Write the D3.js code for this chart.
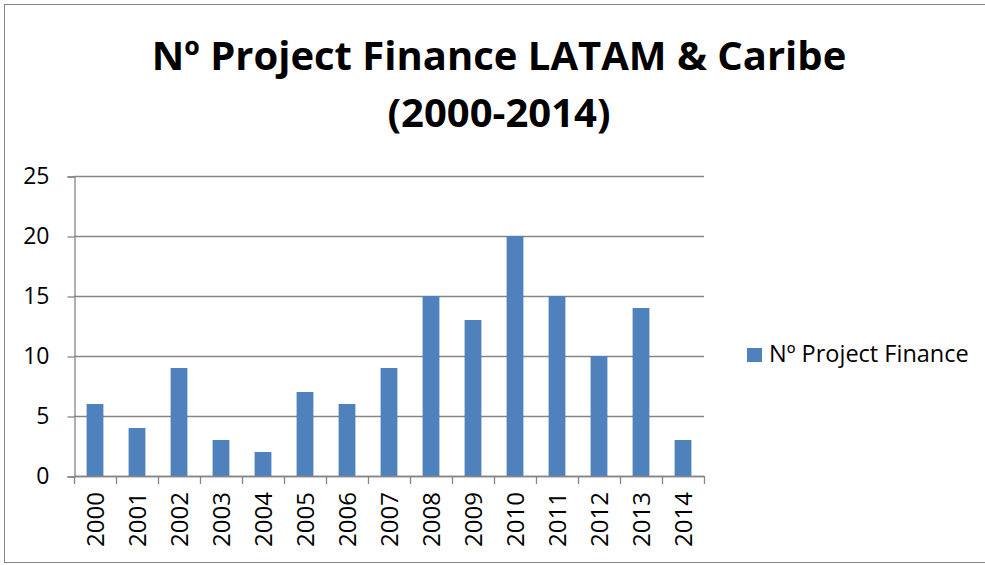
<!DOCTYPE html>
<html>
<head>
<meta charset="utf-8">
<script src="https://cdn.jsdelivr.net/npm/d3@7"></script>
<style>
  html, body { margin: 0; padding: 0; background: #ffffff; }
  svg { display: block; }
  text { font-family: "Open Sans", "Liberation Sans", sans-serif; fill: #000; }
</style>
</head>
<body>
<svg id="chart" width="985" height="565"></svg>
<script>
// Number of project finance deals per year
const years = ["2000","2001","2002","2003","2004","2005","2006","2007","2008","2009","2010","2011","2012","2013","2014"];
const projectCounts = [6, 4, 9, 3, 2, 7, 6, 9, 15, 13, 20, 15, 10, 14, 3];
const yTicks = [0, 5, 10, 15, 20, 25];
const seriesName = "Nº Project Finance";
const titleLines = ["Nº Project Finance LATAM & Caribe", "(2000-2014)"];

const svg = d3.select("#chart");
const plot = { left: 74, right: 704, top: 176, bottom: 476 };
const gridColor = "#868686";
const barColor = "#4f81bd";
const labelSize = 24;

// outer chart frame
svg.append("rect")
  .attr("x", 4.5).attr("y", 4.5)
  .attr("width", 990).attr("height", 558)
  .attr("fill", "none").attr("stroke", gridColor).attr("stroke-width", 1);

// title
svg.append("g").selectAll("text")
  .data(titleLines)
  .join("text")
  .attr("x", 499)
  .attr("y", (d, i) => 70 + i * 57)
  .attr("text-anchor", "middle")
  .attr("font-weight", "bold")
  .attr("font-size", 40)
  .text(d => d);

const x = d3.scaleBand()
  .domain(years)
  .range([plot.left, plot.right])
  .paddingInner(0.6)
  .paddingOuter(0.3);

const y = d3.scaleLinear()
  .domain([0, 25])
  .range([plot.bottom, plot.top]);

// horizontal gridlines
svg.append("g").selectAll("line")
  .data(yTicks)
  .join("line")
  .attr("x1", plot.left).attr("x2", plot.right)
  .attr("y1", d => Math.round(y(d)) + 0.5)
  .attr("y2", d => Math.round(y(d)) + 0.5)
  .attr("stroke", gridColor).attr("stroke-width", 1.3);

// y axis
const yAxis = d3.axisLeft(y)
  .tickValues(yTicks)
  .tickSize(7)
  .tickPadding(18)
  .tickFormat(d3.format("d"));
const gy = svg.append("g")
  .attr("transform", `translate(${plot.left + 0.5},0.5)`)
  .call(yAxis);
gy.select(".domain").attr("stroke", gridColor).attr("stroke-width", 1.3);
gy.selectAll(".tick line").attr("stroke", gridColor).attr("stroke-width", 1.3);
gy.selectAll(".tick text")
  .attr("font-size", 23)
  .attr("font-family", "Open Sans, Liberation Sans, sans-serif")
  .attr("fill", "#000");

// bars
svg.append("g").selectAll("rect")
  .data(years.map((yr, i) => ({ yr, v: projectCounts[i] })))
  .join("rect")
  .attr("x", d => x(d.yr))
  .attr("width", x.bandwidth())
  .attr("y", d => y(d.v))
  .attr("height", d => y(0) - y(d.v))
  .attr("fill", barColor);

// x axis: ticks on category boundaries, labels rotated
const step = x.step();
const boundaries = d3.range(years.length + 1).map(i => plot.left + i * step);
const gx = svg.append("g");
gx.append("line")
  .attr("x1", plot.left).attr("x2", plot.right)
  .attr("y1", plot.bottom + 0.5).attr("y2", plot.bottom + 0.5)
  .attr("stroke", gridColor).attr("stroke-width", 1.3);
gx.selectAll("line.tick")
  .data(boundaries)
  .join("line")
  .attr("class", "tick")
  .attr("x1", d => Math.round(d) + 0.5).attr("x2", d => Math.round(d) + 0.5)
  .attr("y1", plot.bottom).attr("y2", plot.bottom + 8)
  .attr("stroke", gridColor).attr("stroke-width", 1.3);
gx.selectAll("text")
  .data(years)
  .join("text")
  .attr("transform", d => `translate(${x(d) + x.bandwidth() / 2},492) rotate(-90)`)
  .attr("text-anchor", "end")
  .attr("dy", "0.36em")
  .attr("font-size", labelSize)
  .text(d => d);

// legend
const legend = svg.append("g").attr("transform", "translate(747,348)");
legend.append("rect")
  .attr("width", 15).attr("height", 14)
  .attr("fill", barColor);
legend.append("text")
  .attr("x", 22).attr("y", 14)
  .attr("font-size", 23.5)
  .text(seriesName);
</script>
</body>
</html>
